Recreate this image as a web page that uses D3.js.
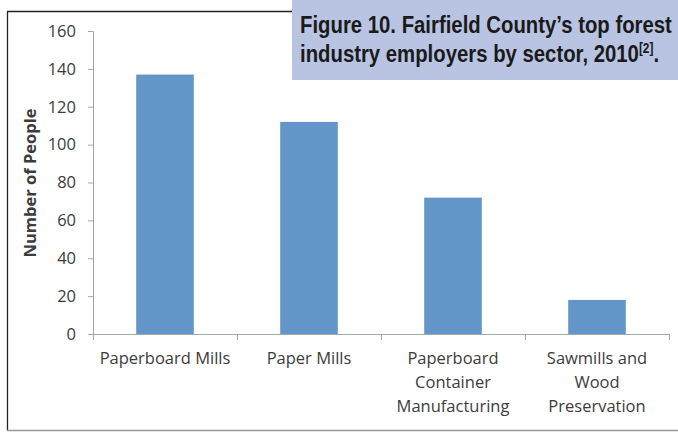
<!DOCTYPE html>
<html><head><meta charset="utf-8">
<script src="https://cdn.jsdelivr.net/npm/d3@7"></script>
<style>body{margin:0;background:#fff}svg{display:block}</style>
</head><body>
<svg id="c" width="678" height="432"></svg>
<script>
const categories = [["Paperboard Mills"], ["Paper Mills"], ["Paperboard", "Container", "Manufacturing"], ["Sawmills and", "Wood", "Preservation"]];
const values = [137, 112, 72, 18];
const yTicks = [0, 20, 40, 60, 80, 100, 120, 140, 160];
const yTitle = "Number of People";
const titleLines = ["Figure 10. Fairfield County\u2019s top forest", "industry employers by sector, 2010"];
const titleSup = "[2]";

const bodyFont = "'Open Sans', Lato, sans-serif";
const svg = d3.select("#c");
// frame
svg.append("path").attr("d", "M7.5,431 L7.5,11.5 L300,11.5").attr("fill","none").attr("stroke","#222").attr("stroke-width",1.3);
svg.append("line").attr("x1",7).attr("x2",678).attr("y1",430.5).attr("y2",430.5).attr("stroke","#999").attr("stroke-width",1.5);

const x = d3.scaleBand().domain(d3.range(categories.length)).range([93, 669]).paddingInner(0.6).paddingOuter(0.3);
const y = d3.scaleLinear().domain([0, 160]).range([334, 31]);

// bars
svg.selectAll("rect.bar").data(values).join("rect").attr("class","bar")
  .attr("x",(d,i)=>x(i)).attr("width",x.bandwidth())
  .attr("y",d=>y(d)).attr("height",d=>y(0)-y(d)).attr("fill","#6296c9");

// y axis
const yAxis = d3.axisLeft(y).tickValues(yTicks).tickSize(5).tickPadding(12);
const gy = svg.append("g").attr("transform","translate(93,0)").call(yAxis);
gy.select(".domain").attr("stroke","#a6a6a6").attr("d","M-5,31.5H0.5V334.5");
gy.selectAll(".tick line").attr("stroke","#a6a6a6");
gy.selectAll(".tick text").attr("font-family",bodyFont).attr("font-size",16.5).attr("fill","#3c3c3c");

// x axis
svg.append("line").attr("x1",93).attr("x2",669).attr("y1",334.5).attr("y2",334.5).attr("stroke","#a6a6a6");
const step = x.step();
const bounds = d3.range(categories.length+1).map(i=>93+i*step);
svg.selectAll("line.xt").data(bounds).join("line").attr("class","xt")
  .attr("x1",d=>Math.round(d)+0.5).attr("x2",d=>Math.round(d)+0.5).attr("y1",334).attr("y2",340).attr("stroke","#a6a6a6");

const xl = svg.selectAll("text.xl").data(categories).join("text").attr("class","xl")
  .attr("x",(d,i)=>x(i)+x.bandwidth()/2).attr("y",364)
  .attr("text-anchor","middle").attr("font-family",bodyFont).attr("font-size",16.5).attr("fill","#3c3c3c");
xl.selectAll("tspan").data(d=>d).join("tspan")
  .attr("x",function(){return this.parentNode.getAttribute("x");})
  .attr("dy",(d,i)=>i===0?0:24).text(d=>d);

// y title
svg.append("text").attr("transform","translate(36,183) rotate(-90)").attr("text-anchor","middle")
  .attr("font-family",bodyFont).attr("font-weight","bold").attr("font-size",16.5).attr("fill","#3c3c3c").text(yTitle);

// title box
svg.append("rect").attr("x",292).attr("y",0).attr("width",386).attr("height",80).attr("fill","#b8c4e2");
const tf = "'Liberation Sans', Arial, sans-serif";
const tg = svg.append("g");
const t1 = tg.append("text").attr("x",0).attr("y",33).attr("font-family",tf).attr("font-weight","bold").attr("font-size",24).attr("fill","#1a1a1a").text(titleLines[0]);
const t2 = tg.append("text").attr("x",0).attr("y",62).attr("font-family",tf).attr("font-weight","bold").attr("font-size",24).attr("fill","#1a1a1a");
t2.append("tspan").text(titleLines[1]);
t2.append("tspan").attr("dy",-9).attr("font-size",14).text(titleSup);
t2.append("tspan").attr("dy",9).text(".");
const w1 = t1.node().getComputedTextLength();
const sx = 372 / w1;
tg.attr("transform",`translate(300,0) scale(${sx},1)`);
</script>
</body></html>
